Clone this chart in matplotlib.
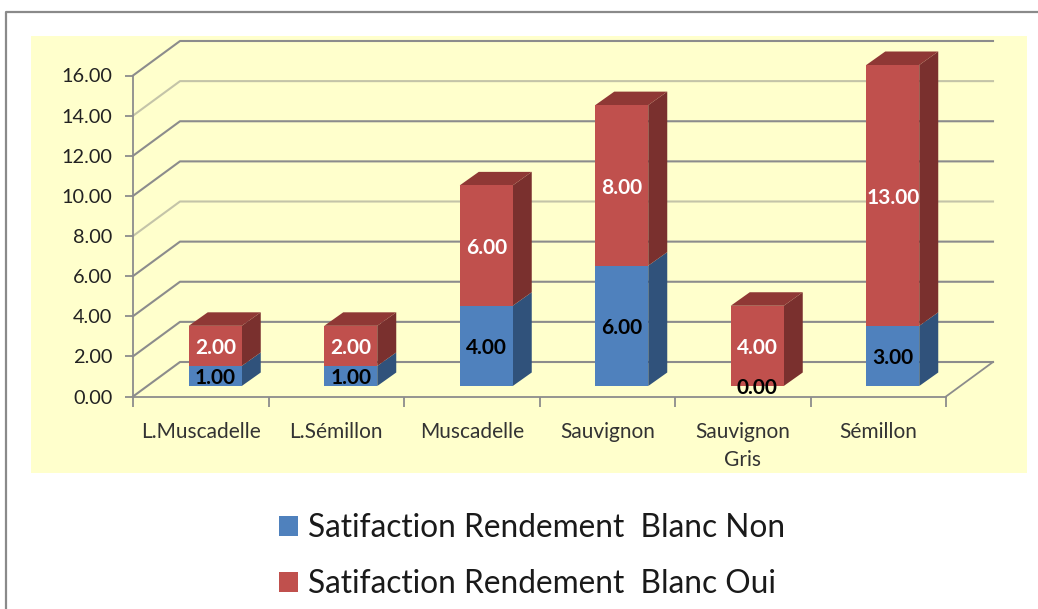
import matplotlib
matplotlib.use("Agg")
import matplotlib.pyplot as plt
from matplotlib.lines import Line2D
from matplotlib.patches import Patch, Rectangle

categories = ["L.Muscadelle", "L.Sémillon", "Muscadelle", "Sauvignon", "Sauvignon\nGris", "Sémillon"]
non_values = [1, 1, 4, 6, 0, 3]
oui_values = [2, 2, 6, 8, 4, 13]
series_names = ["Satifaction Rendement  Blanc Non", "Satifaction Rendement  Blanc Oui"]
y_ticks = [0, 2, 4, 6, 8, 10, 12, 14, 16]

W, H = 1038, 609
X0, X1, Y0, Y1 = 133, 946, 396.5, 75.5  # plot box in pixels
UX = (X1 - X0) / len(categories)
UY = (Y0 - Y1) / 16

BLUE, BLUE_SIDE = "#4F81BD", "#30527B"
RED, RED_SIDE, RED_TOP = "#C0504D", "#7A302E", "#8F3835"
GRID = "#8C8C8C"

# the fake 3d offsets, converted from pixels to data units
WALL_DX, WALL_DY = 47 / UX, 34.5 / UY
BAR_DX, BAR_DY = 19 / UX, 13.5 / UY
BASE_Y = 10.5 / UY
BAR_W = 53 / UX

plt.rcParams["font.family"] = ["Lato", "DejaVu Sans"]

fig = plt.figure(figsize=(W / 100, H / 100), dpi=100)

# outer frame and yellow panel
fig.patches.append(Rectangle((31 / W, 1 - 473 / H), 996 / W, 437 / H, transform=fig.transFigure,
                             facecolor="#FFFFCC", edgecolor="none", zorder=-5))
fig.add_artist(Line2D([6 / W, 6 / W, 1], [0, 1 - 11.5 / H, 1 - 11.5 / H], color="#8A8A8A", lw=1.6))

ax = fig.add_axes([X0 / W, 1 - Y0 / H, (X1 - X0) / W, (Y0 - Y1) / H])
ax.patch.set_alpha(0)
ax.set_xlim(0, len(categories))
ax.set_ylim(0, 16)

for s in ["top", "right"]:
    ax.spines[s].set_visible(False)
for s in ["left", "bottom"]:
    ax.spines[s].set_color(GRID)
    ax.spines[s].set_linewidth(1.3)

ax.set_yticks(y_ticks)
ax.set_yticklabels(["%.2f" % t for t in y_ticks], fontsize=14.3, color="#222222")
ax.tick_params(axis="y", length=6, width=1.3, color=GRID, pad=9)
ax.set_xticks(range(len(categories) + 1))
ax.set_xticklabels([])
ax.tick_params(axis="x", which="major", length=7, width=1.3, color=GRID)
ax.set_xticks([i + 0.5 for i in range(len(categories))], minor=True)
ax.set_xticklabels(categories, minor=True, fontsize=15, color="#333333", va="top", linespacing=1.56)
ax.tick_params(axis="x", which="minor", length=0, pad=18)

# walls: side lines going back, then the back wall lines
n = len(categories)
for t in y_ticks:
    c = "#C4C4A8" if t in (8, 14) else GRID
    ax.plot([0, WALL_DX, n + WALL_DX], [t, t + WALL_DY, t + WALL_DY], color=c, lw=1.5, clip_on=False, zorder=1)
ax.plot([n, n + WALL_DX], [0, WALL_DY], color=GRID, lw=1.3, clip_on=False, zorder=1)

# bars
for i in range(n):
    left = i + 0.5 - BAR_W / 2 + 14.5 / UX
    right = left + BAR_W
    low = BASE_Y
    for val, col, side, txt in [(non_values[i], BLUE, BLUE_SIDE, "black"), (oui_values[i], RED, RED_SIDE, "white")]:
        high = low + val
        if val > 0:
            ax.fill([right, right + BAR_DX, right + BAR_DX, right],
                    [low, low + BAR_DY, high + BAR_DY, high], color=side, lw=0, clip_on=False, zorder=3)
            ax.bar(left, val, width=BAR_W, bottom=low, align="edge", color=col, lw=0, clip_on=False, zorder=4)
        ax.text(left + BAR_W / 2, low + val / 2 - 2.5 / UY, "%.2f" % val, color=txt, fontsize=15, fontweight="bold",
                ha="center", va="center", zorder=6, clip_on=False)
        low = high
    ax.fill([left, left + BAR_DX, right + BAR_DX, right], [low, low + BAR_DY, low + BAR_DY, low],
            color=RED_TOP, lw=0, clip_on=False, zorder=3)

handles = [Patch(facecolor=BLUE, label=series_names[0]), Patch(facecolor=RED, label=series_names[1])]
fig.legend(handles=handles, loc="upper left", bbox_to_anchor=(273 / W, 1 - 507 / H), frameon=False,
           fontsize=22.8, handlelength=0.58, handleheight=0.58, handletextpad=0.32,
           labelspacing=0.81, labelcolor="#1A1A1A", borderpad=0.2, borderaxespad=0)

fig.savefig("out.png", dpi=100, facecolor="white")
